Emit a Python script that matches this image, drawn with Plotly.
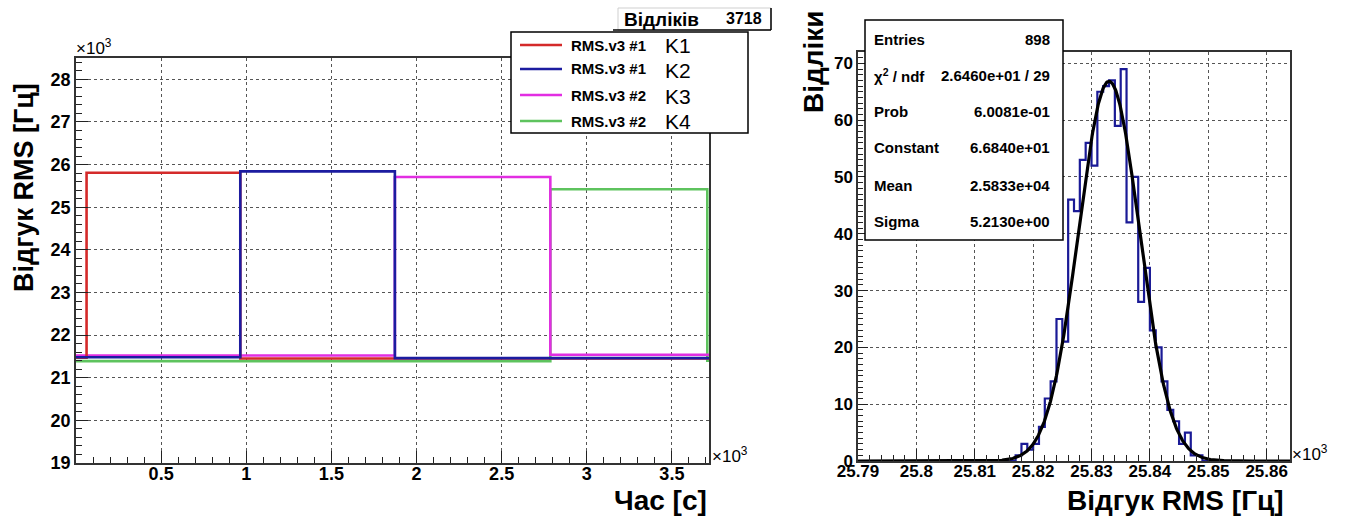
import numpy as np
import plotly.graph_objects as go

W, H = 1346, 517
FONT = "Liberation Sans, Arial, sans-serif"

# ---------------- Left chart data: RMS response vs time ----------------
k1_time = [0, 62, 965, 3718]
k1_rms = [21470, 25810, 21450, 21450]
k2_time = [0, 965, 1873, 3718]
k2_rms = [21480, 25840, 21460, 21460]
k3_time = [0, 1873, 2786, 3718]
k3_rms = [21520, 25710, 21540, 21540]
k4_time = [0, 2786, 3708, 3718]
k4_rms = [21390, 25420, 21400, 21400]

series_names = ["RMS.v3 #1", "RMS.v3 #1", "RMS.v3 #2", "RMS.v3 #2"]
series_keys = ["K1", "K2", "K3", "K4"]
series_colors = ["#d42a2a", "#1c1ca0", "#e22ee2", "#5ec35e"]
n_samples = 3718

x_tick_vals = [0.5, 1, 1.5, 2, 2.5, 3, 3.5]
x_tick_text = ["0.5", "1", "1.5", "2", "2.5", "3", "3.5"]

# ---------------- Right chart data: histogram of RMS (1 Hz bins) ----------------
hist_range = (25790, 25864)
hist_first_bin = 25817
hist_counts = [1, 3, 2, 3, 6, 11, 14, 25, 21, 46, 44, 53, 56, 52, 65, 66,
               67, 59, 69, 42, 50, 28, 34, 23, 20, 14, 9, 7, 3, 5, 1, 1]
fit_const, fit_mean, fit_sigma = 66.84, 25833.0, 5.213
stats_labels = ["Entries", "χ<sup>2</sup> / ndf", "Prob", "Constant", "Mean", "Sigma"]
stats_values = ["898", "2.6460e+01 / 29", "6.0081e-01", "6.6840e+01", "2.5833e+04", "5.2130e+00"]
h_tick_vals = [25.79, 25.80, 25.81, 25.82, 25.83, 25.84, 25.85, 25.86]
h_tick_text = ["25.79", "25.8", "25.81", "25.82", "25.83", "25.84", "25.85", "25.86"]


def X(p):
    return p / W


def Y(p):
    return 1 - p / H


fig = go.Figure()

# left traces (draw order: green, magenta, red, blue)
left_series = [(k1_time, k1_rms), (k2_time, k2_rms), (k3_time, k3_rms), (k4_time, k4_rms)]
for idx in [3, 2, 0, 1]:
    t, v = left_series[idx]
    fig.add_trace(go.Scatter(
        x=[a / 1000 for a in t], y=[b / 1000 for b in v], mode="lines",
        line=dict(color=series_colors[idx], width=2.6, shape="hv"),
        name=series_keys[idx], showlegend=False, xaxis="x", yaxis="y"))

# right histogram
edges = np.arange(hist_range[0], hist_range[1] + 1)
counts = np.zeros(len(edges) - 1)
for i, c in enumerate(hist_counts):
    counts[hist_first_bin - hist_range[0] + i] = c
hx = edges / 1000.0
hy = np.append(counts, counts[-1])
fig.add_trace(go.Scatter(x=hx, y=hy, mode="lines",
                         line=dict(color="#1a1a96", width=2.2, shape="hv"),
                         showlegend=False, xaxis="x2", yaxis="y2"))
fx = np.linspace(hist_range[0], hist_range[1], 800)
fy = fit_const * np.exp(-0.5 * ((fx - fit_mean) / fit_sigma) ** 2)
fig.add_trace(go.Scatter(x=fx / 1000.0, y=fy, mode="lines",
                         line=dict(color="black", width=3.2),
                         showlegend=False, xaxis="x2", yaxis="y2"))

tickfont = dict(family=FONT, size=18, color="black", weight="bold")
grid = dict(showgrid=True, gridcolor="#555", griddash="dot", gridwidth=1)
axline = dict(showline=True, linecolor="#333", linewidth=1.5, mirror=True,
              zeroline=False, automargin=False)

fig.update_layout(
    template="none",
    width=W, height=H, margin=dict(l=0, r=0, t=0, b=0, pad=0),
    paper_bgcolor="white", plot_bgcolor="white",
    font=dict(family=FONT, color="black"),
    xaxis=dict(domain=[X(76), X(709)], range=[0, n_samples / 1000], anchor="y",
               tickmode="array", tickvals=x_tick_vals, ticktext=x_tick_text,
               ticks="inside", ticklen=12, tickwidth=1.3, tickcolor="#222",
               ticklabelstandoff=-6,
               minor=dict(tickmode="linear", tick0=0, dtick=0.1, ticks="inside",
                          ticklen=6, tickcolor="#222", showgrid=False),
               tickfont=tickfont, **grid, **axline),
    yaxis=dict(domain=[Y(463), Y(58)], range=[19, 28.5], anchor="x",
               tickmode="linear", tick0=19, dtick=1,
               ticks="inside", ticklen=12, tickwidth=1.3, tickcolor="#222",
               minor=dict(tickmode="linear", tick0=19, dtick=0.2, ticks="inside",
                          ticklen=6, tickcolor="#222", showgrid=False),
               tickfont=tickfont, **grid, **axline),
    xaxis2=dict(domain=[X(858), X(1290)],
                range=[hist_range[0] / 1000, hist_range[1] / 1000], anchor="y2",
                tickmode="array", tickvals=h_tick_vals, ticktext=h_tick_text,
                ticks="inside", ticklen=12, tickwidth=1.3, tickcolor="#222",
                ticklabelstandoff=-6,
                minor=dict(tickmode="linear", tick0=25.79, dtick=0.002, ticks="inside",
                           ticklen=6, tickcolor="#222", showgrid=False),
                tickfont=dict(family=FONT, size=17, color="black", weight="bold"),
                **grid, **axline),
    yaxis2=dict(domain=[Y(461), Y(52)], range=[0, 72], anchor="x2",
                tickmode="linear", tick0=0, dtick=10,
                ticks="inside", ticklen=10, tickwidth=1.3, tickcolor="#222",
                minor=dict(tickmode="linear", tick0=0, dtick=1, ticks="inside",
                           ticklen=5, tickcolor="#222", showgrid=False),
                tickfont=dict(family=FONT, size=17, color="black", weight="bold"),
                **grid, **axline),
)

shapes = []
annotations = []


def text(x, y, s, size, bold=True, xanchor="left", angle=0, color="black"):
    annotations.append(dict(
        x=X(x), y=Y(y), xref="paper", yref="paper", text=s, showarrow=False,
        xanchor=xanchor, yanchor="middle", textangle=angle, borderpad=0,
        font=dict(family=FONT, size=size, color=color, weight="bold" if bold else "normal")))


# ×10^3 markers
text(75, 47, "×10<sup>3</sup>", 17, bold=False)
text(711, 455, "×10<sup>3</sup>", 17, bold=False)
text(1291, 453, "×10<sup>3</sup>", 17, bold=False)

# axis titles
text(24, 188, "Відгук RMS [Гц]", 27, angle=-90, xanchor="center")
text(708, 500, "Час [с]", 28, xanchor="right")
text(813, 62, "Відліки", 28, angle=-90, xanchor="center")
text(1285, 500, "Відгук RMS [Гц]", 28, xanchor="right")

# entries box (left)
shapes.append(dict(type="rect", xref="paper", yref="paper", x0=X(618), x1=X(771), y0=Y(30), y1=Y(8),
                   fillcolor="white", line=dict(color="#cfcfcf", width=1)))
shapes.append(dict(type="line", xref="paper", yref="paper", x0=X(613), x1=X(771), y0=Y(30), y1=Y(30),
                   line=dict(color="black", width=1.5)))
shapes.append(dict(type="line", xref="paper", yref="paper", x0=X(771), x1=X(771), y0=Y(30), y1=Y(8),
                   line=dict(color="black", width=1.5)))
text(623, 19, "Відліків", 19)
text(763, 18, str(n_samples), 16, xanchor="right")

# legend (left)
shapes.append(dict(type="rect", xref="paper", yref="paper", x0=X(511), x1=X(748), y0=Y(133), y1=Y(32),
                   fillcolor="white", line=dict(color="black", width=1.5)))
rows = [45, 69, 95, 121]
for i in range(4):
    shapes.append(dict(type="line", xref="paper", yref="paper", x0=X(520), x1=X(562),
                       y0=Y(rows[i]), y1=Y(rows[i]), line=dict(color=series_colors[i], width=2.6)))
    text(570, rows[i], series_names[i], 15)
    text(664, rows[i] + 1, series_keys[i], 21, bold=False)

# stats box (right)
shapes.append(dict(type="rect", xref="paper", yref="paper", x0=X(865), x1=X(1063), y0=Y(240), y1=Y(20),
                   fillcolor="white", line=dict(color="black", width=1.5)))
srows = [39, 76, 112, 148, 185, 221]
for i in range(6):
    text(873, srows[i], stats_labels[i], 15)
    text(1051, srows[i], stats_values[i], 15, xanchor="right")

fig.update_layout(shapes=shapes, annotations=annotations)
fig.write_html("out.html")
